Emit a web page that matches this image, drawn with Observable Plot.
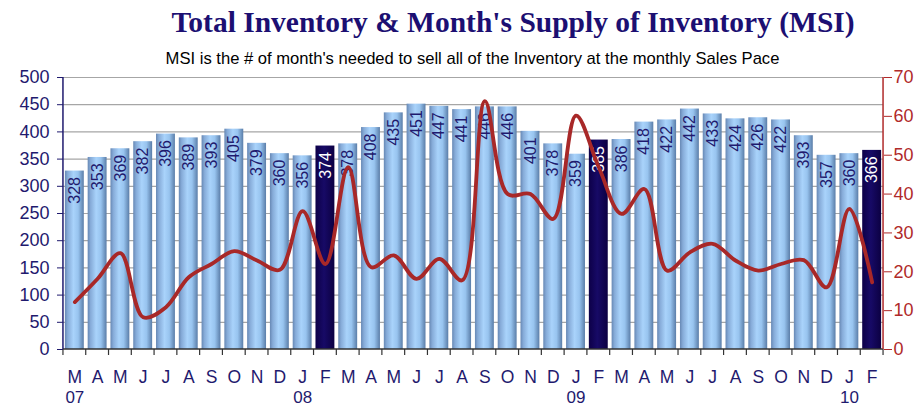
<!DOCTYPE html>
<html>
<head>
<meta charset="utf-8">
<script src="https://cdn.jsdelivr.net/npm/d3@7"></script>
<script src="https://cdn.jsdelivr.net/npm/@observablehq/plot@0.6"></script>
<style>
  html, body { margin: 0; padding: 0; background: #fff; }
  #wrap { position: relative; width: 918px; height: 407px; overflow: hidden; }
  #title { position: absolute; left: 0; width: 1026px; top: 6px; text-align: center;
    font-family: "Liberation Serif", serif; font-weight: bold; font-size: 29.5px; color: #1c0f72; }
  #subtitle { position: absolute; left: 0; width: 945px; top: 49px; text-align: center;
    font-family: "Liberation Sans", Arial, sans-serif; font-size: 16.6px; color: #000; }
  #chart { position: absolute; left: 0; top: 0; }
</style>
</head>
<body>
<div id="wrap">
  <div id="chart"></div>
  <div id="title">Total Inventory &amp; Month's Supply of Inventory (MSI)</div>
  <div id="subtitle">MSI is the # of month's needed to sell all of the Inventory at the monthly Sales Pace</div>
</div>
<script>
const monthLabels = ["M","A","M","J","J","A","S","O","N","D","J","F",
                     "M","A","M","J","J","A","S","O","N","D","J","F",
                     "M","A","M","J","J","A","S","O","N","D","J","F"];
const yearLabels = {0: "07", 10: "08", 22: "09", 34: "10"};
const inventory = [328,353,369,382,396,389,393,405,379,360,356,374,
                   378,408,435,451,447,441,446,446,401,378,359,385,
                   386,418,422,442,433,424,426,422,393,357,360,366];
const msi = [12.2,18.2,24.8,8.3,10.9,18.6,22,25.3,22.9,20.5,35.6,22,
             46.9,21.2,24.2,18.2,23.3,17.8,63.9,40,40,33.6,60.2,46.9,
             34.9,41.3,20.3,25,27.2,22.9,20.3,22,23,16,36.2,17.3];
const highlight = [11, 23, 35];

const k = 500 / 70;
const data = inventory.map((v, i) => ({
  i, month: monthLabels[i], inv: v, msi: msi[i], msiScaled: msi[i] * k,
  dark: highlight.includes(i), year: yearLabels[i] ?? ""
}));

const navy = "#1f1a6e";
const red = "#b02a2a";

const defs = () => {
  const svg = d3.create("svg:defs");
  const g1 = svg.append("linearGradient").attr("id", "gLight").attr("x1", 0).attr("x2", 1).attr("y1", 0).attr("y2", 0);
  [[0, "#6788b4"], [0.15, "#86abd8"], [0.45, "#a9d3fb"], [0.7, "#98c4ef"], [1, "#5a7da8"]]
    .forEach(([o, c]) => g1.append("stop").attr("offset", o).attr("stop-color", c));
  const g2 = svg.append("linearGradient").attr("id", "gDark").attr("x1", 0).attr("x2", 1).attr("y1", 0).attr("y2", 0);
  [[0, "#0d0048"], [0.45, "#170a66"], [1, "#0c0042"]]
    .forEach(([o, c]) => g2.append("stop").attr("offset", o).attr("stop-color", c));
  return svg.node();
};

// axis lines and category ticks, positioned from the library's scales
const axisLines = (index, scales, values, dim) => {
  const g = d3.create("svg:g");
  const x = scales.x, y = scales.y;
  const gap = (x.step() - x.bandwidth()) / 2;
  const left = x(0) - gap, right = x(35) + x.bandwidth() + gap;
  const y0 = y(0), yTop = y(500);
  const bounds = d3.range(37).map(i => i < 36 ? x(i) - gap : right);
  g.selectAll("line.t").data(bounds).join("line")
    .attr("x1", d => d).attr("x2", d => d).attr("y1", y0).attr("y2", y0 + 6)
    .attr("stroke", "#333").attr("stroke-width", 1.2);
  g.append("line").attr("x1", left).attr("x2", right).attr("y1", y0).attr("y2", y0)
    .attr("stroke", "#333").attr("stroke-width", 1.5);
  g.append("line").attr("x1", left).attr("x2", left).attr("y1", yTop).attr("y2", y0)
    .attr("stroke", navy).attr("stroke-width", 1.5);
  g.append("line").attr("x1", right).attr("x2", right).attr("y1", yTop).attr("y2", y0)
    .attr("stroke", red).attr("stroke-width", 1.5);
  return g.node();
};

const chart = Plot.plot({
  width: 918,
  height: 407,
  marginTop: 77,
  marginBottom: 58,
  marginLeft: 63,
  marginRight: 35,
  style: { background: "transparent", fontFamily: "'Liberation Sans', Arial, sans-serif" },
  x: { domain: d3.range(36), paddingInner: 0.17, paddingOuter: 0.083, round: false, axis: null },
  y: { domain: [0, 500], axis: null },
  marks: [
    defs,
    Plot.gridY(d3.range(50, 501, 50), { stroke: "#a6a6a6", strokeOpacity: 1, strokeWidth: 1.2 }),
    Plot.barY(data, { x: "i", y: "inv", fill: d => d.dark ? "url(#gDark)" : "url(#gLight)" }),
    Plot.text(data, {
      x: "i", y: "inv", text: d => String(d.inv), rotate: -90, textAnchor: "end",
      lineAnchor: "middle", dy: 6, fontSize: 16, fill: d => d.dark ? "#ffffff" : navy
    }),
    Plot.line(data, { x: "i", y: "msiScaled", curve: "catmull-rom", stroke: "#a82828", strokeWidth: 3.8 }),
    Plot.axisY({ anchor: "left", ticks: d3.range(0, 501, 50), tickSize: 6, tickPadding: 8,
      fontSize: 18, color: navy, label: null }),
    Plot.axisY({ anchor: "right", ticks: d3.range(0, 71, 10).map(v => v * k), tickSize: 8, tickPadding: 2,
      tickFormat: d => String(Math.round(d / k)), fontSize: 18, color: red, label: null }),
    axisLines,
    Plot.text(data, { x: "i", y: 0, text: "month", dy: 28, fontSize: 17.5, fill: navy }),
    Plot.text(data, { x: "i", y: 0, text: "year", dy: 48, fontSize: 17, fill: navy })
  ]
});
document.getElementById("chart").appendChild(chart);
</script>
</body>
</html>
